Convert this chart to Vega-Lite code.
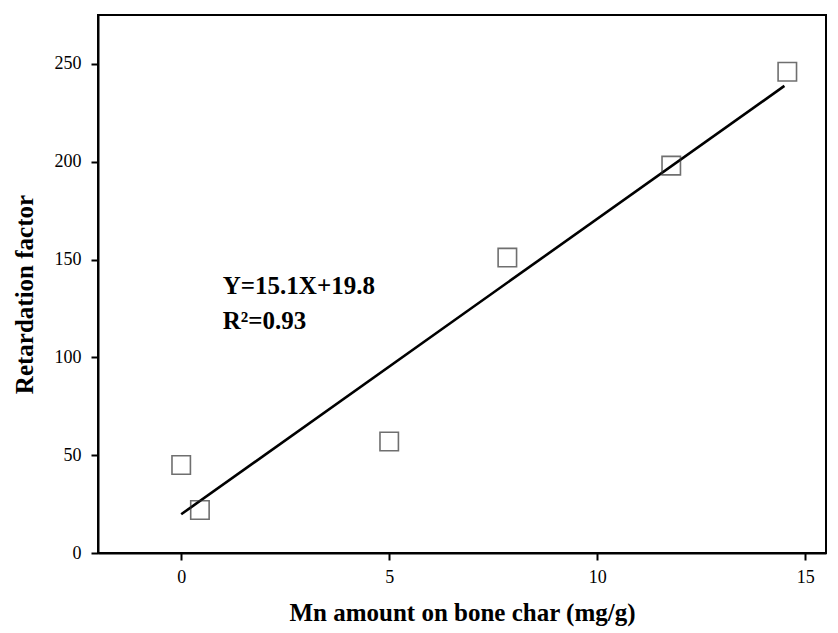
{
  "$schema": "https://vega.github.io/schema/vega-lite/v6.json",
  "width": 728,
  "height": 538,
  "autosize": "none",
  "padding": {"left": 98, "top": 15, "right": 12, "bottom": 80},
  "background": "white",
  "config": {
    "view": {"stroke": "black", "strokeWidth": 2},
    "axis": {
      "grid": false,
      "domainColor": "black",
      "domainWidth": 2,
      "tickColor": "black",
      "tickWidth": 2,
      "tickSize": 7,
      "labelFont": "Liberation Serif",
      "labelFontSize": 18,
      "labelColor": "black",
      "titleFont": "Liberation Serif",
      "titleFontSize": 25,
      "titleFontWeight": "bold",
      "titleColor": "black"
    }
  },
  "datasets": {
    "points": [
      {"mn": 0.0, "rf": 45},
      {"mn": 0.45, "rf": 22},
      {"mn": 5.0, "rf": 57},
      {"mn": 7.84, "rf": 151},
      {"mn": 11.78, "rf": 198},
      {"mn": 14.57, "rf": 246}
    ],
    "fit": [
      {"mn": 0.0, "rf": 19.8},
      {"mn": 14.5, "rf": 238.75}
    ],
    "notes": [
      {"mn": 1.0, "rf": 136.5, "label": "Y=15.1X+19.8"},
      {"mn": 1.0, "rf": 118.5, "label": "R²=0.93"}
    ]
  },
  "layer": [
    {
      "data": {"name": "fit"},
      "mark": {"type": "line", "color": "black", "strokeWidth": 2.6},
      "encoding": {
        "x": {
          "field": "mn", "type": "quantitative",
          "scale": {"domain": [-2, 15.5], "nice": false, "zero": false},
          "axis": {"values": [0, 5, 10, 15], "title": "Mn amount on bone char (mg/g)", "titlePadding": 14, "labelPadding": 8}
        },
        "y": {
          "field": "rf", "type": "quantitative",
          "scale": {"domain": [0, 275], "nice": false},
          "axis": {"values": [0, 50, 100, 150, 200, 250], "title": "Retardation factor", "titlePadding": 17, "labelPadding": 10, "titleY": 279}
        }
      }
    },
    {
      "data": {"name": "points"},
      "mark": {"type": "point", "shape": "square", "size": 340, "filled": false, "stroke": "#333333", "strokeWidth": 1.6},
      "encoding": {
        "x": {"field": "mn", "type": "quantitative"},
        "y": {"field": "rf", "type": "quantitative"}
      }
    },
    {
      "data": {"name": "notes"},
      "mark": {"type": "text", "align": "left", "baseline": "middle", "font": "Liberation Serif", "fontSize": 25, "fontWeight": "bold", "color": "black"},
      "encoding": {
        "x": {"field": "mn", "type": "quantitative"},
        "y": {"field": "rf", "type": "quantitative"},
        "text": {"field": "label"}
      }
    }
  ]
}
